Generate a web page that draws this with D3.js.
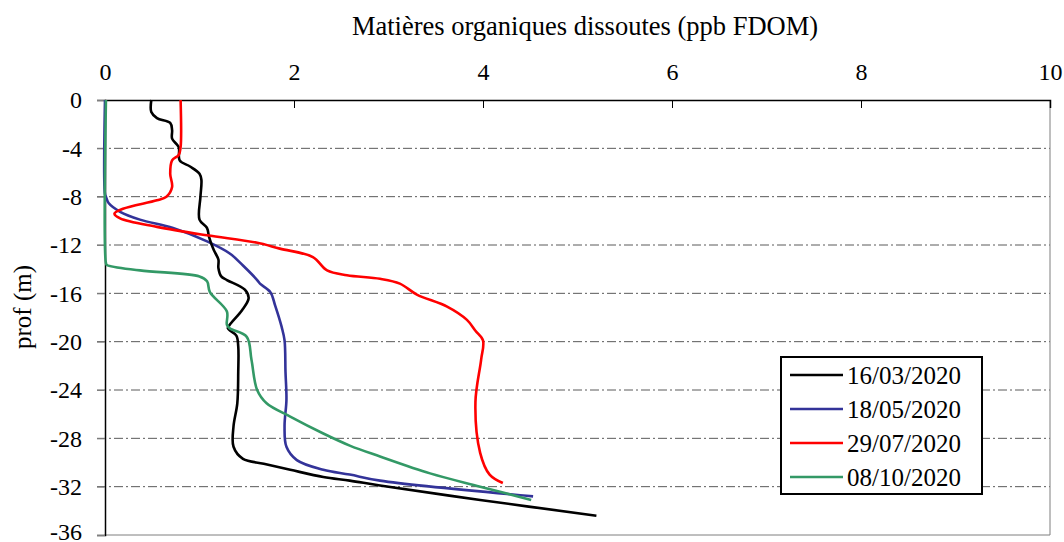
<!DOCTYPE html>
<html>
<head>
<meta charset="utf-8">
<script src="https://cdn.jsdelivr.net/npm/d3@7/dist/d3.min.js"></script>
</head>
<body style="margin:0;background:#fff">
<svg id="chart" width="1064" height="542" font-family="Liberation Serif"></svg>
<script>
// Depth profiles of dissolved organic matter (FDOM, ppb) for four sampling dates
const seriesNames = ["16/03/2020", "18/05/2020", "29/07/2020", "08/10/2020"];
const seriesColors = ["#000000", "#333399", "#ff0000", "#339966"];

const depth1603 = [0, -1.0, -1.5, -1.9, -2.5, -3.2, -3.9, -5.0, -5.5, -6.1, -6.6, -8.0, -9.9, -10.6, -11.3, -12.4, -13.2, -13.9, -14.6, -14.9, -15.7, -16.4, -17.4, -18.6, -18.9, -19.5, -20.4, -22.5, -25.1, -27.0, -28.7, -29.7, -30.1, -30.6, -31.2, -31.5, -31.9, -33.1, -34.4];
const fdom1603  = [0.49, 0.49, 0.55, 0.69, 0.71, 0.71, 0.78, 0.79, 0.90, 1.00, 1.02, 1.01, 1.00, 1.08, 1.10, 1.15, 1.20, 1.20, 1.23, 1.29, 1.48, 1.52, 1.45, 1.32, 1.30, 1.39, 1.41, 1.41, 1.40, 1.36, 1.36, 1.46, 1.68, 1.96, 2.31, 2.59, 2.91, 3.97, 5.20];

const depth1805 = [0, -7.8, -8.0, -8.55, -9.25, -9.9, -10.6, -11.7, -12.7, -13.7, -14.9, -15.2, -15.9, -17.0, -18.8, -19.9, -22.5, -24.8, -27.0, -28.7, -29.8, -30.6, -31.0, -31.5, -32.8];
const fdom1805  = [0.0, 0.0, 0.01, 0.04, 0.16, 0.37, 0.72, 1.08, 1.32, 1.46, 1.61, 1.64, 1.75, 1.80, 1.87, 1.90, 1.91, 1.92, 1.90, 1.92, 2.03, 2.31, 2.59, 2.91, 4.53];

const depth2907 = [0, -3.9, -4.55, -5.0, -6.1, -7.2, -8.0, -8.3, -9.0, -9.4, -9.8, -10.5, -11.2, -11.8, -12.3, -13.0, -14.1, -14.5, -14.8, -15.2, -16.1, -17.1, -18.2, -19.1, -19.9, -21.5, -25.0, -29.2, -31.0, -31.7];
const fdom2907  = [0.80, 0.80, 0.78, 0.71, 0.69, 0.71, 0.65, 0.55, 0.19, 0.10, 0.16, 0.55, 1.08, 1.60, 1.85, 2.20, 2.35, 2.56, 2.91, 3.12, 3.30, 3.62, 3.83, 3.92, 4.00, 3.98, 3.92, 3.97, 4.07, 4.21];

const depth0810 = [0, -13.5, -13.65, -14.1, -14.6, -15.0, -15.9, -17.5, -18.6, -18.9, -19.6, -21.5, -24.0, -25.1, -26.2, -27.6, -28.6, -29.5, -30.9, -32.0, -33.1];
const fdom0810  = [0.01, 0.01, 0.02, 0.37, 1.00, 1.08, 1.11, 1.29, 1.29, 1.32, 1.50, 1.55, 1.61, 1.71, 1.96, 2.31, 2.59, 2.91, 3.44, 3.97, 4.51];

const xTicks = [0, 2, 4, 6, 8, 10];
const yTicks = [0, -4, -8, -12, -16, -20, -24, -28, -32, -36];

const seriesDepths = [depth1603, depth1805, depth2907, depth0810];
const seriesValues = [fdom1603, fdom1805, fdom2907, fdom0810];

const FONT = "Liberation Serif";

const svg = d3.select("#chart");
const plot = { left: 105, right: 1050, top: 100, bottom: 535 };

const x = d3.scaleLinear().domain([0, 10]).range([plot.left, plot.right]);
const y = d3.scaleLinear().domain([0, -36]).range([plot.top, plot.bottom]);

// horizontal dash-dot gridlines, extended slightly left as outer ticks
svg.append("g")
  .selectAll("line")
  .data(yTicks.filter(d => d !== 0 && d !== -36))
  .join("line")
  .attr("x1", plot.left - 8).attr("x2", plot.right)
  .attr("y1", d => y(d)).attr("y2", d => y(d))
  .attr("stroke", "#5a5a5a").attr("stroke-width", 1)
  .attr("stroke-dasharray", "9,3,2,3");

// right and bottom frame of the plot area
svg.append("path")
  .attr("d", `M${plot.right},${plot.top}V${plot.bottom}H${plot.left}`)
  .attr("fill", "none").attr("stroke", "#7f7f7f").attr("stroke-width", 1);

// left axis (depth)
const yAxis = d3.axisLeft(y).tickValues(yTicks).tickSize(8).tickPadding(15)
  .tickFormat(d => d3.format("d")(d).replace("\u2212", "-"));
const gy = svg.append("g").attr("transform", `translate(${plot.left},0)`).call(yAxis)
  .attr("font-family", FONT).attr("font-size", 24);
gy.select(".domain").attr("stroke", "#000").attr("stroke-width", 1.5);
gy.selectAll(".tick line").attr("stroke", "#7f7f7f");
gy.selectAll(".tick text").attr("fill", "#000");
gy.selectAll(".tick").filter(d => d === -36).select("text").attr("dy", "0.2em");

// top axis (FDOM), ticks pointing inward
const xAxis = d3.axisTop(x).tickValues(xTicks).tickSize(-8).tickPadding(0)
  .tickFormat(d3.format("d"));
const gx = svg.append("g").attr("transform", `translate(0,${plot.top})`).call(xAxis)
  .attr("font-family", FONT).attr("font-size", 24);
gx.select(".domain").attr("stroke", "#000").attr("stroke-width", 1.5);
gx.selectAll(".tick line").attr("stroke", "#000");
gx.selectAll(".tick text").attr("y", -20).attr("fill", "#000");

// axis titles
svg.append("text")
  .attr("x", 585).attr("y", 35)
  .attr("text-anchor", "middle")
  .attr("font-family", FONT)
  .attr("font-size", 26.5)
  .text("Matières organiques dissoutes (ppb FDOM)");

svg.append("text")
  .attr("transform", "translate(31,307) rotate(-90)")
  .attr("text-anchor", "middle")
  .attr("font-family", FONT)
  .attr("font-size", 25)
  .text("prof (m)");

// profiles
const line = d3.line()
  .x(d => x(d.v))
  .y(d => y(d.z))
  .curve(d3.curveCatmullRom.alpha(0.5));

const profiles = seriesNames.map((name, i) => ({
  name,
  color: seriesColors[i],
  points: seriesDepths[i].map((z, k) => ({ z, v: seriesValues[i][k] }))
}));

// draw in order so later dates sit on top
const drawOrder = [1, 0, 2, 3];
svg.append("g")
  .selectAll("path")
  .data(drawOrder.map(i => profiles[i]))
  .join("path")
  .attr("d", d => line(d.points))
  .attr("fill", "none")
  .attr("stroke", d => d.color)
  .attr("stroke-width", 2.6)
  .attr("stroke-linejoin", "round")
  .attr("stroke-linecap", "butt");

// legend
const legend = svg.append("g");
legend.append("rect")
  .attr("x", 781).attr("y", 357).attr("width", 201).attr("height", 137)
  .attr("fill", "#fff").attr("stroke", "#000").attr("stroke-width", 2);

const rows = legend.selectAll("g.row")
  .data(profiles)
  .join("g")
  .attr("class", "row")
  .attr("transform", (d, i) => `translate(0,${375 + i * 34})`);

rows.append("line")
  .attr("x1", 790).attr("x2", 843)
  .attr("stroke", d => d.color).attr("stroke-width", 2.6);

rows.append("text")
  .attr("x", 847).attr("dy", "0.35em")
  .attr("font-family", FONT)
  .attr("font-size", 25)
  .text(d => d.name);
</script>
</body>
</html>
